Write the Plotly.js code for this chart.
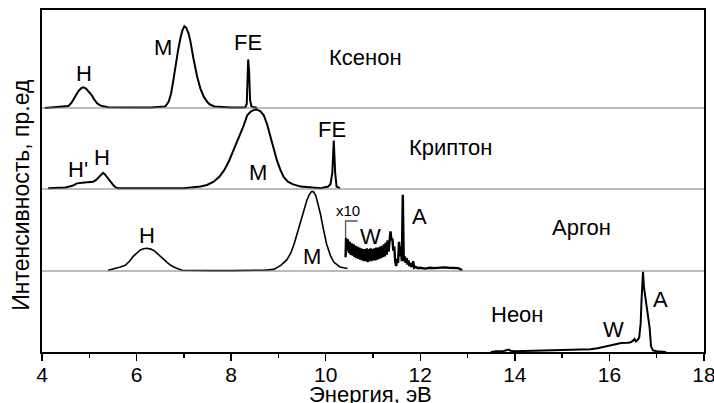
<!DOCTYPE html>
<html>
<head>
<meta charset="utf-8">
<script src="https://cdn.plot.ly/plotly-3.0.1.min.js"></script>
<style>html,body{margin:0;padding:0;background:#fff}#chart{width:714px;height:403px}</style>
</head>
<body>
<div id="chart"></div>
<script>
// ---------- data (intensity, arb. units) ----------
const xenonE = [4.06,4.2,4.35,4.5,4.56,4.63,4.70,4.77,4.83,4.875,4.93,5.0,5.05,5.10,5.16,5.22,5.27,5.4,5.7,6.0,6.3,6.5,6.55,6.61,6.68,6.73,6.78,6.83,6.88,6.93,6.97,7.01,7.05,7.10,7.14,7.20,7.28,7.35,7.42,7.50,7.56,7.65,7.8,8.0,8.2,8.3,8.33,8.345,8.36,8.38,8.40,8.43,8.5,8.55];
const xenonI = [0.0,0.005,0.01,0.015,0.025,0.07,0.14,0.21,0.245,0.255,0.24,0.2,0.16,0.11,0.06,0.035,0.025,0.01,0.005,0.005,0.005,0.01,0.01,0.02,0.08,0.18,0.35,0.55,0.72,0.87,0.96,1.01,0.99,0.92,0.82,0.62,0.39,0.24,0.14,0.07,0.04,0.02,0.01,0.005,0.005,0.01,0.05,0.3,0.6,0.45,0.1,0.02,0.01,0.0];

const kryptonE = [4.13,4.3,4.5,4.64,4.74,4.9,5.0,5.08,5.14,5.2,5.25,5.29,5.33,5.38,5.43,5.47,5.52,5.56,5.61,5.8,6.2,6.6,7.0,7.35,7.49,7.63,7.75,7.85,7.95,8.05,8.15,8.25,8.34,8.42,8.50,8.55,8.62,8.69,8.76,8.83,8.90,8.97,9.04,9.11,9.2,9.3,9.47,9.7,9.9,10.05,10.1,10.14,10.17,10.2,10.23,10.3];
const kryptonI = [0.01,0.015,0.02,0.04,0.07,0.08,0.085,0.09,0.11,0.15,0.18,0.20,0.18,0.14,0.10,0.07,0.04,0.02,0.01,0.01,0.01,0.01,0.01,0.03,0.05,0.09,0.15,0.23,0.34,0.48,0.62,0.76,0.91,0.96,0.98,0.98,0.96,0.91,0.80,0.64,0.48,0.35,0.24,0.15,0.09,0.06,0.03,0.015,0.01,0.03,0.06,0.2,0.60,0.2,0.03,0.01];

const argonE = [5.40,5.55,5.66,5.76,5.85,5.93,6.0,6.08,6.15,6.22,6.30,6.37,6.43,6.50,6.57,6.64,6.72,6.82,6.96,7.2,7.6,8.0,8.4,8.7,8.90,9.05,9.18,9.26,9.33,9.40,9.47,9.54,9.60,9.65,9.70,9.74,9.79,9.84,9.89,9.95,10.02,10.1,10.17,10.3,10.46];
const argonI = [0.01,0.03,0.05,0.07,0.12,0.18,0.22,0.26,0.275,0.28,0.27,0.25,0.22,0.18,0.14,0.11,0.07,0.04,0.01,0.005,0.005,0.005,0.005,0.01,0.02,0.07,0.14,0.22,0.33,0.46,0.60,0.75,0.87,0.94,0.98,0.98,0.93,0.83,0.70,0.52,0.33,0.19,0.11,0.05,0.03];

// argon spectrum part magnified x10 (W band and A line)
const argon10E = [10.42,10.43,10.45,10.47,10.49,10.51,10.53,10.55,10.57,10.59,10.61,10.63,10.65,10.67,10.69,10.71,10.73,10.75,10.77,10.79,10.81,10.83,10.85,10.87,10.89,10.91,10.93,10.95,10.97,10.99,11.01,11.03,11.05,11.07,11.09,11.11,11.13,11.15,11.17,11.19,11.21,11.23,11.25,11.27,11.29,11.31,11.33,11.35,11.37,11.39,11.41,11.43,11.45,11.47,11.49,11.51,11.53,11.55,11.57,11.59,11.61,11.63,11.65,11.67,11.69,11.71,11.73,11.75,11.77,11.79,11.81,11.83,11.85,11.87,11.9,11.95,12.0,12.1,12.2,12.3,12.4,12.5,12.6,12.7,12.8,12.86,12.88];
const argon10I = [0.17,0.41,0.25,0.39,0.22,0.36,0.20,0.34,0.19,0.33,0.17,0.31,0.16,0.30,0.15,0.29,0.14,0.28,0.13,0.27,0.12,0.27,0.12,0.28,0.11,0.27,0.12,0.28,0.12,0.27,0.13,0.28,0.13,0.29,0.14,0.29,0.15,0.30,0.16,0.31,0.17,0.33,0.18,0.35,0.20,0.38,0.24,0.44,0.49,0.38,0.40,0.25,0.30,0.12,0.06,0.15,0.10,0.36,0.18,0.30,0.12,0.94,0.12,0.18,0.10,0.16,0.08,0.13,0.06,0.10,0.05,0.07,0.12,0.04,0.05,0.035,0.04,0.03,0.04,0.035,0.04,0.045,0.04,0.04,0.035,0.02,0.005];

const neonE = [13.49,13.6,13.75,13.84,13.87,13.91,14.0,14.4,14.83,15.1,15.4,15.6,15.75,15.9,16.03,16.15,16.25,16.39,16.45,16.5,16.53,16.56,16.6,16.63,16.66,16.68,16.71,16.73,16.78,16.81,16.85,16.88,16.92,17.0,17.2];
const neonI = [0.0,0.01,0.01,0.02,0.03,0.015,0.01,0.015,0.02,0.025,0.03,0.035,0.045,0.065,0.09,0.10,0.11,0.115,0.12,0.14,0.16,0.13,0.15,0.18,0.35,0.65,0.99,0.80,0.60,0.50,0.30,0.07,0.02,0.01,0.0];

const xTickVals = [4,6,8,10,12,14,16,18];
const gasNames = ['Неон','Аргон','Криптон','Ксенон'];

// ---------- layout constants ----------
const base = {neon:0, argon:1.0, krypton:2.012, xenon:3.012};
const yTop = 4.222;
const font = 'Liberation Sans, Arial, sans-serif';

function shift(arr, b){ return arr.map(v => v + b); }
const lineStyle = {color:'#000', width:2};

const traces = [
  {x:xenonE, y:shift(xenonI, base.xenon), mode:'lines', line:lineStyle, hoverinfo:'skip'},
  {x:kryptonE, y:shift(kryptonI, base.krypton), mode:'lines', line:lineStyle, hoverinfo:'skip'},
  {x:argonE, y:shift(argonI, base.argon), mode:'lines', line:{color:'#000', width:1.6}, hoverinfo:'skip'},
  {x:argon10E, y:shift(argon10I, base.argon), mode:'lines', line:{color:'#000', width:2.4}, hoverinfo:'skip'},
  {x:neonE, y:shift(neonI, base.neon), mode:'lines', line:lineStyle, hoverinfo:'skip'}
];

function lab(text, x, y, size){
  return {text:text, x:x, y:y, xref:'x', yref:'y', showarrow:false,
          font:{family:font, size:size||22, color:'#000'}, xanchor:'center', yanchor:'middle'};
}

const annotations = [
  lab('H', 4.89, 3.444), lab('M', 6.56, 3.753), lab('FE', 8.36, 3.827), lab(gasNames[3], 10.84, 3.63),
  lab("H'", 4.76, 2.247), lab('H', 5.27, 2.407), lab('M', 8.56, 2.222), lab('FE', 10.14, 2.741), lab(gasNames[2], 12.64, 2.519),
  lab('H', 6.22, 1.444), lab('M', 9.70, 1.173), lab('x10', 10.48, 1.741, 15), lab('W', 10.95, 1.42), lab('A', 11.99, 1.667), lab(gasNames[1], 15.40, 1.543),
  lab(gasNames[0], 14.06, 0.457), lab('W', 16.08, 0.272), lab('A', 17.09, 0.654),
  {text:'Интенсивность, пр.ед', xref:'paper', yref:'paper', x:-0.032, y:0.459, textangle:-90,
   showarrow:false, font:{family:font, size:23, color:'#000'}, xanchor:'center', yanchor:'middle'},
  {text:'Энергия, эВ', xref:'paper', yref:'paper', x:0.496, y:0, yshift:-28, showarrow:false,
   font:{family:font, size:22, color:'#000'}, xanchor:'center', yanchor:'top'}
];

const shapes = [
  {type:'line', xref:'paper', yref:'y', x0:0, x1:1, y0:base.argon, y1:base.argon, line:{color:'#7a7a7a', width:1.2}},
  {type:'line', xref:'paper', yref:'y', x0:0, x1:1, y0:base.krypton, y1:base.krypton, line:{color:'#7a7a7a', width:1.2}},
  {type:'line', xref:'paper', yref:'y', x0:0, x1:1, y0:base.xenon, y1:base.xenon, line:{color:'#7a7a7a', width:1.2}},
  // bracket marking the x10 part
  {type:'path', xref:'x', yref:'y', path:'M 10.42 1.407 L 10.42 1.617 L 10.674 1.617', line:{color:'#555', width:1.3}}
];

const layout = {
  width:714, height:403,
  margin:{l:42, r:10, t:10, b:51},
  paper_bgcolor:'#fff', plot_bgcolor:'#fff',
  showlegend:false,
  font:{family:font, color:'#000'},
  xaxis:{range:[4,18], tickvals:xTickVals, ticks:'outside', ticklen:7, tickwidth:1.3, tickcolor:'#000',
         minor:{dtick:1, tick0:4, ticks:'outside', ticklen:4, tickwidth:1.3, tickcolor:'#000'},
         showline:true, mirror:true, linecolor:'#000', linewidth:2, showgrid:false, zeroline:false,
         ticklabeloverflow:'allow', ticklabelstandoff:-4,
         tickfont:{family:font, size:21, color:'#000'}},
  yaxis:{range:[0,yTop], showline:true, mirror:true, linecolor:'#000', linewidth:2, ticks:'',
         showticklabels:false, showgrid:false, zeroline:false},
  annotations:annotations,
  shapes:shapes
};

Plotly.newPlot('chart', traces, layout, {staticPlot:true, displayModeBar:false});
</script>
</body>
</html>
